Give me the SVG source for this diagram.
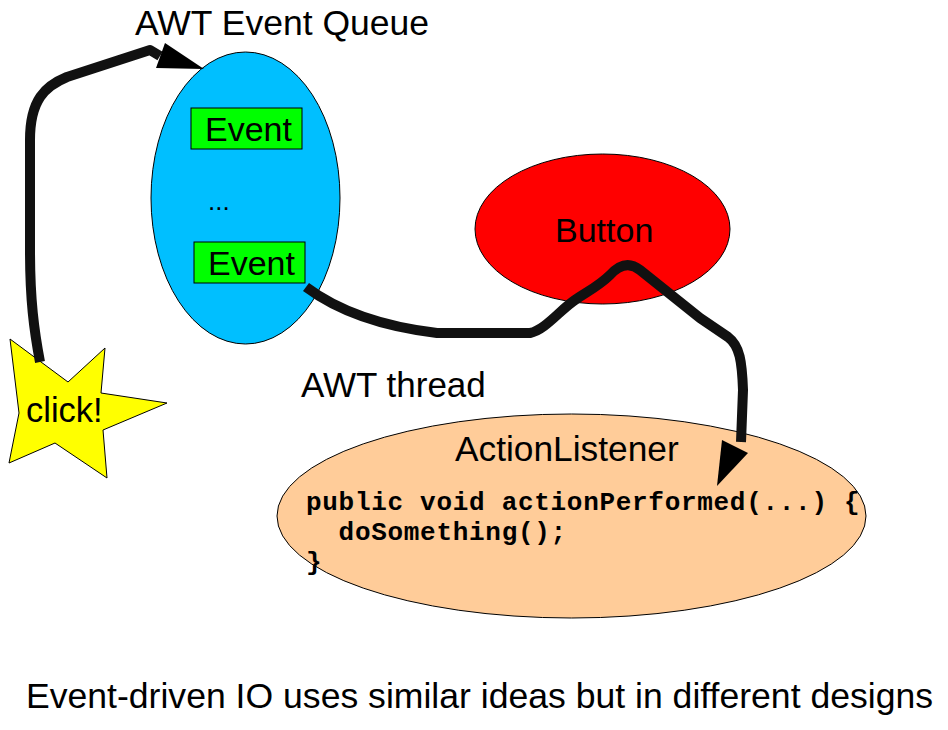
<svg xmlns="http://www.w3.org/2000/svg" width="948" height="730" viewBox="0 0 948 730">
<style>
.t{font-family:"Liberation Sans",Arial,sans-serif;fill:#000}
.code{font-family:"Liberation Mono","Courier New",monospace;font-weight:bold;font-size:26px;letter-spacing:0.7px;fill:#000}
.shape{stroke:#000;stroke-width:1}
.conn{fill:none;stroke:#111;stroke-width:10;stroke-linejoin:round}
.head{fill:#000}
</style>
<rect width="948" height="730" fill="#fff"/>
<text class="t" x="135" y="35" font-size="35.5">AWT Event Queue</text>
<g id="queue">
<ellipse class="shape" cx="245.5" cy="198" rx="94.5" ry="146" fill="#00bfff"/>
<rect class="shape" x="191" y="108" width="111" height="41" fill="#00ff00"/>
<text class="t" x="205" y="141" font-size="34">Event</text>
<text class="t" x="208" y="210" font-size="26">...</text>
<rect class="shape" x="194" y="242" width="111" height="41" fill="#00ff00"/>
<text class="t" x="208" y="275" font-size="34">Event</text>
</g>
<g id="button">
<ellipse class="shape" cx="602.5" cy="229" rx="127.5" ry="75" fill="#ff0000"/>
<text class="t" x="555" y="242" font-size="34">Button</text>
</g>
<g id="click">
<polygon class="shape" points="10,339 68,382 105,348 101,393 167,403 103,430 107,478 55,443 9,463 19,413" fill="#ffff00"/>
<text class="t" x="26" y="422" font-size="34.5">click!</text>
</g>
<text class="t" x="301" y="397" font-size="35">AWT thread</text>
<g id="listener">
<ellipse class="shape" cx="571.5" cy="516" rx="294.5" ry="102" fill="#ffcc99"/>
<text class="t" x="455" y="461" font-size="35.3">ActionListener</text>
<text class="code" x="306" y="510">public void actionPerformed(...) {</text>
<text class="code" x="306" y="540" xml:space="preserve">  doSomething();</text>
<text class="code" x="306" y="570">}</text>
</g>
<g id="connectors">
<path class="conn" d="M 40 362 C 34 330, 30 300, 30 250 L 30 140 C 30 100, 45 86, 67 77 L 150 50 L 160 56"/>
<polygon class="head" points="165,43 156,68 204,69"/>
<path class="conn" d="M 306 287 C 330 305, 370 325, 437 333 L 530 333 C 545 330, 560 310, 575 300 C 590 290, 600 285, 610 275 C 620 264, 630 262, 640 270 L 700 318 L 728 337 C 740 346, 742 362, 743 390 L 741 442"/>
<polygon class="head" points="722,440 748,453 717,486"/>
</g>
<text class="t" x="26" y="708" font-size="35.6">Event-driven IO uses similar ideas but in different designs</text>
</svg>
